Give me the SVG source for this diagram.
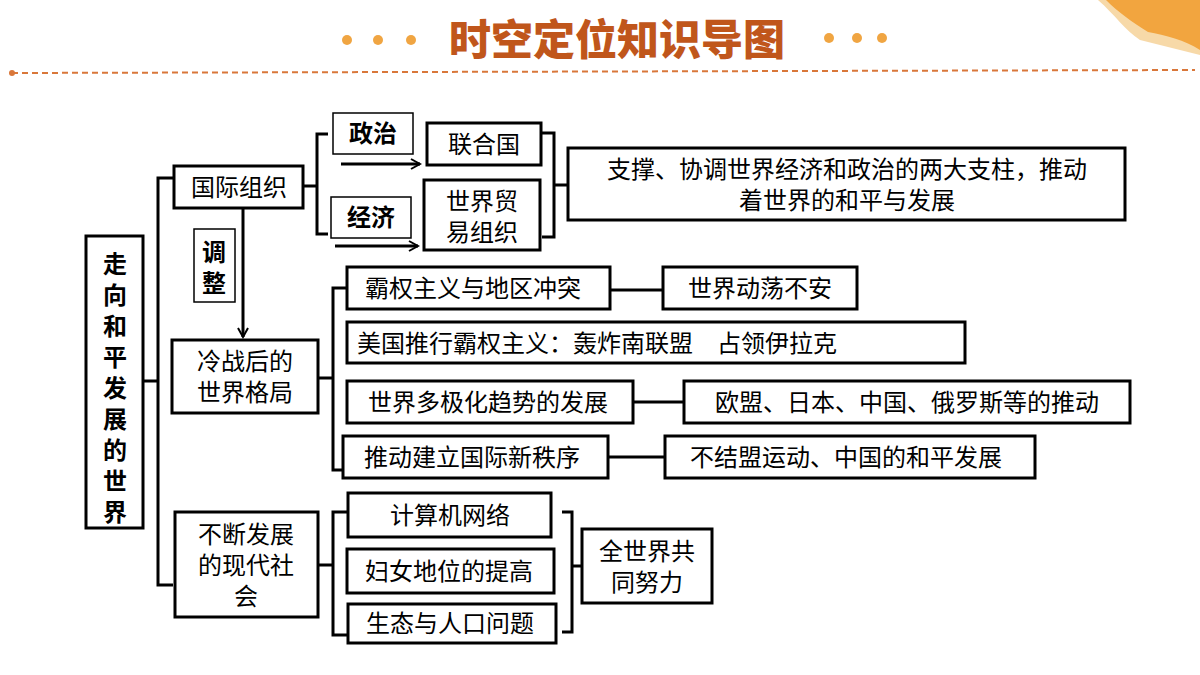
<svg xmlns="http://www.w3.org/2000/svg" width="1200" height="675" viewBox="0 0 1200 675">
<style>
.b{fill:#fff;stroke:#000;stroke-width:3}
.l{fill:none;stroke:#000;stroke-width:3}
text{font-family:"Noto Sans CJK SC","Noto Sans",sans-serif;font-size:24px;fill:#000;text-anchor:middle}
.bd{font-weight:bold}
.dot{fill:#f0a542}
</style>
<defs><marker id="ar" markerWidth="12" markerHeight="12" refX="10" refY="6" orient="auto" markerUnits="userSpaceOnUse"><path d="M1,1 L10,6 L1,11" fill="none" stroke="#000" stroke-width="2"/></marker></defs>
<rect width="1200" height="675" fill="#fff"/>
<g id="header">
<path d="M1098,0 H1200 V55 C1180,50 1160,45 1140,40 C1125,30 1115,15 1098,0 Z" fill="#f7d9a8"/>
<path d="M1106,0 H1200 V50 C1185,40 1165,35 1148,32 C1132,22 1118,12 1106,0 Z" fill="#f2a53f"/>
<circle class="dot" cx="347" cy="40" r="5"/><circle class="dot" cx="378" cy="40" r="5"/><circle class="dot" cx="411" cy="40" r="5"/>
<circle class="dot" cx="829" cy="38" r="5"/><circle class="dot" cx="857" cy="38" r="5"/><circle class="dot" cx="882" cy="38" r="5"/>
<text x="617" y="55" style="font-size:42px;font-weight:900;fill:#c0561b">时空定位知识导图</text>
<line x1="12" y1="73" x2="1195" y2="70" stroke="#d9773a" stroke-width="2" stroke-dasharray="6,4"/>
<circle cx="12" cy="73" r="3" fill="#d9773a"/>
</g>
<g id="connectors">
<path class="l" d="M143,381 H158 M173,178 H158 V585 H173"/>
<path class="l" d="M303,186 H317 M328,134 H317 V234 H328"/>
<line class="l" x1="243" y1="208" x2="243" y2="337" marker-end="url(#ar)"/>
<line class="l" x1="341" y1="164" x2="420" y2="164" marker-end="url(#ar)"/>
<line class="l" x1="335" y1="246" x2="418" y2="246" marker-end="url(#ar)"/>
<path class="l" d="M542,133 H554 V237 H542 M554,185 H568"/>
<path class="l" d="M318,378 H333 M347,288 H333 V470 H343"/>
<path class="l" d="M610,290 H663 M633,402 H684 M608,457 H665"/>
<path class="l" d="M318,565 H333 M347,512 H333 V635 H348"/>
<path class="l" d="M562,512 H572 V632 H562 M572,566 H582"/>
</g>
<g id="n-main"><rect class="b" x="86" y="236" width="57" height="292"/>
<text x="115" y="252" style="writing-mode:vertical-rl;text-anchor:start;letter-spacing:7px;font-weight:bold">走向和平发展的世界</text></g>
<g id="n-gjzz"><rect class="b" x="174" y="166" width="129" height="42"/><text x="239" y="196">国际组织</text></g>
<g id="n-tz"><rect fill="#fff" stroke="#000" stroke-width="1.5" x="194" y="229" width="41" height="73"/><text class="bd" x="214" y="261">调</text><text class="bd" x="214" y="292">整</text></g>
<g id="n-zz"><rect fill="#fff" stroke="#000" stroke-width="1.5" x="333" y="113" width="80" height="41"/><text class="bd" x="373" y="142">政治</text></g>
<g id="n-jj"><rect fill="#fff" stroke="#000" stroke-width="1.5" x="331" y="197" width="80" height="41"/><text class="bd" x="371" y="226">经济</text></g>
<g id="n-lhg"><rect class="b" x="427" y="123" width="114" height="42"/><text x="484" y="153">联合国</text></g>
<g id="n-wto"><rect class="b" x="424" y="180" width="116" height="70"/><text x="482" y="210">世界贸</text><text x="482" y="241">易组织</text></g>
<g id="n-zc"><rect class="b" x="568" y="148" width="557" height="72"/><text x="847" y="178">支撑、协调世界经济和政治的两大支柱，推动</text><text x="847" y="209">着世界的和平与发展</text></g>
<g id="n-lzh"><rect class="b" x="172" y="340" width="146" height="73"/><text x="245" y="370">冷战后的</text><text x="245" y="401">世界格局</text></g>
<g id="n-bq"><rect class="b" x="347" y="267" width="263" height="42"/><text x="473" y="297">霸权主义与地区冲突</text></g>
<g id="n-dd"><rect class="b" x="663" y="267" width="194" height="42"/><text x="760" y="297">世界动荡不安</text></g>
<g id="n-mg"><rect class="b" x="347" y="322" width="618" height="41"/><text x="357" y="352" style="text-anchor:start">美国推行霸权主义：轰炸南联盟　占领伊拉克</text></g>
<g id="n-djh"><rect class="b" x="347" y="381" width="286" height="42"/><text x="488" y="411">世界多极化趋势的发展</text></g>
<g id="n-om"><rect class="b" x="684" y="381" width="446" height="42"/><text x="907" y="411">欧盟、日本、中国、俄罗斯等的推动</text></g>
<g id="n-xzx"><rect class="b" x="343" y="436" width="265" height="42"/><text x="472" y="466">推动建立国际新秩序</text></g>
<g id="n-bjm"><rect class="b" x="665" y="436" width="370" height="42"/><text x="846" y="466">不结盟运动、中国的和平发展</text></g>
<g id="n-xd"><rect class="b" x="175" y="512" width="143" height="105"/><text x="246" y="543">不断发展</text><text x="246" y="574">的现代社</text><text x="246" y="605">会</text></g>
<g id="n-jsj"><rect class="b" x="348" y="493" width="203" height="44"/><text x="450" y="524">计算机网络</text></g>
<g id="n-fn"><rect class="b" x="347" y="549" width="207" height="44"/><text x="449" y="580">妇女地位的提高</text></g>
<g id="n-st"><rect class="b" x="348" y="604" width="208" height="39"/><text x="450" y="632">生态与人口问题</text></g>
<g id="n-qsj"><rect class="b" x="582" y="529" width="130" height="74"/><text x="647" y="560">全世界共</text><text x="647" y="591">同努力</text></g>
</svg>
